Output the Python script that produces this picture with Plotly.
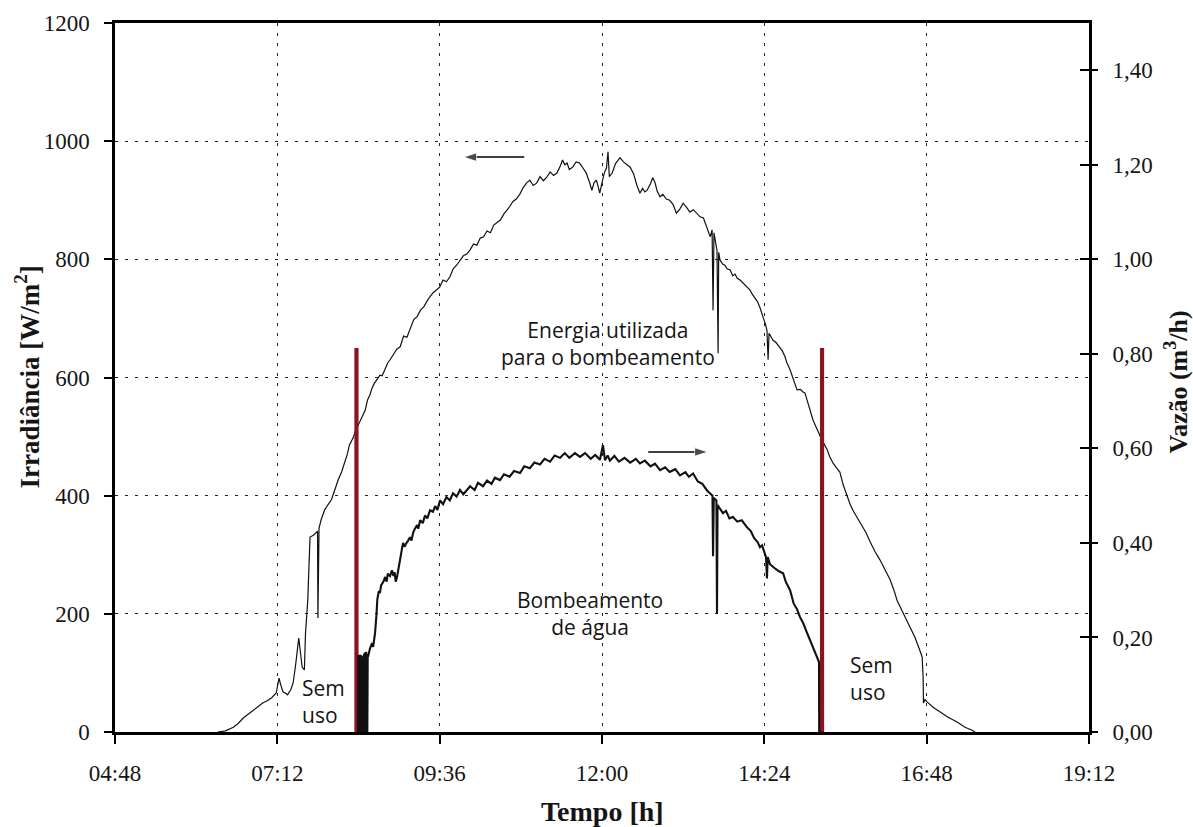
import plotly.graph_objects as go

DAY = "2000-01-01 "

# ---------------- data ----------------
irr_time = [
    "06:19", "06:26", "06:33", "06:37", "06:42", "06:46", "06:50", "06:54", "06:59", "07:03",
    "07:07", "07:11", "07:13:30", "07:15", "07:17", "07:19", "07:21", "07:24", "07:26", "07:28",
    "07:29:30", "07:31", "07:32:30", "07:34", "07:36", "07:37", "07:39", "07:40", "07:41", "07:44",
    "07:47", "07:47:40", "07:48", "07:48:20", "07:49", "07:51", "07:54", "07:57", "08:00", "08:03",
    "08:06", "08:09", "08:12", "08:14", "08:16", "08:19", "08:21", "08:25", "08:28", "08:30",
    "08:32", "08:34", "08:36", "08:38", "08:41", "08:43", "08:45", "08:47", "08:50", "08:52",
    "08:54", "08:56", "08:58", "09:01", "09:04", "09:07", "09:10", "09:13", "09:16", "09:19",
    "09:22", "09:26", "09:30", "09:33", "09:36", "09:39", "09:42", "09:45", "09:48", "09:51",
    "09:54", "09:57", "10:00", "10:03", "10:06", "10:09", "10:12", "10:15", "10:18", "10:21",
    "10:24", "10:27", "10:30", "10:33", "10:36", "10:38", "10:41", "10:44", "10:47", "10:50",
    "10:53", "10:56", "10:59", "11:02", "11:05", "11:08", "11:11", "11:14", "11:17", "11:20",
    "11:23", "11:25", "11:27", "11:29", "11:31", "11:34", "11:37", "11:40", "11:43", "11:46",
    "11:49", "11:51", "11:53", "11:55", "11:57", "11:58", "12:00", "12:02", "12:04", "12:05:20",
    "12:06:30", "12:09", "12:12", "12:16", "12:19", "12:22", "12:25", "12:28", "12:31", "12:33:40",
    "12:36", "12:38", "12:40", "12:43", "12:45", "12:47", "12:49", "12:51:30", "12:54", "12:57",
    "13:00", "13:03", "13:06", "13:09", "13:12", "13:15", "13:18", "13:21", "13:24", "13:27",
    "13:30", "13:33", "13:36", "13:37:40", "13:38:30", "13:39:20", "13:40:20", "13:42", "13:43", "13:43:30",
    "13:44:40", "13:47", "13:49", "13:51", "13:53:40", "13:56", "13:58", "14:00", "14:02:30", "14:05",
    "14:07", "14:09", "14:11:20", "14:13", "14:15:40", "14:18", "14:20", "14:22", "14:23:40", "14:25",
    "14:26:20", "14:27:20", "14:28:10", "14:30", "14:31:40", "14:34", "14:36", "14:38", "14:40", "14:42:20",
    "14:44", "14:46:50", "14:50", "14:53", "14:56", "14:58", "15:00", "15:02", "15:03:40", "15:05",
    "15:07:10", "15:09", "15:11:40", "15:13", "15:15:10", "15:17", "15:19:40", "15:22", "15:25", "15:28",
    "15:31", "15:34", "15:37:20", "15:40", "15:42:40", "15:46", "15:49", "15:54", "15:57:50", "16:02",
    "16:06:40", "16:11", "16:15:30", "16:19", "16:21:40", "16:25", "16:28:50", "16:33", "16:37:40", "16:41",
    "16:44", "16:44:50", "16:45:10", "16:46:30", "16:48:20", "16:53:40", "17:00", "17:07", "17:15", "17:22",
    "17:28:20", "17:31",
]
irr_value = [
    0, 2, 8, 14, 24, 30, 37, 42, 49, 53,
    58, 66, 91, 80, 68, 66, 63, 72, 83, 110,
    139, 159, 135, 110, 105, 168, 223, 280, 330, 333,
    338, 340, 193, 342, 345, 360, 376, 385, 393, 410,
    427, 440, 457, 470, 486, 497, 508, 525, 538, 545,
    562, 570, 582, 590, 598, 604, 603, 612, 625, 630,
    636, 640, 648, 652, 670, 668, 685, 698, 703, 714,
    720, 733, 743, 748, 753, 765, 762, 770, 784, 790,
    799, 806, 809, 816, 826, 824, 836, 838, 848, 845,
    858, 862, 867, 877, 884, 889, 898, 902, 910, 921,
    929, 934, 925, 929, 940, 933, 939, 948, 942, 946,
    958, 968, 960, 963, 952, 956, 965, 963, 955, 946,
    930, 917, 930, 934, 920, 912, 930, 946, 955, 982,
    940, 946, 962, 972, 965, 960, 956, 945, 925, 912,
    920, 914, 917, 928, 938, 930, 915, 906, 910, 902,
    900, 893, 878, 885, 895, 888, 880, 884, 878, 872,
    870, 855, 838, 850, 714, 845, 833, 815, 641, 812,
    799, 792, 790, 784, 782, 772, 775, 768, 765, 760,
    757, 752, 748, 742, 735, 728, 719, 708, 700, 690,
    680, 630, 675, 668, 663, 660, 655, 652, 645, 635,
    625, 613, 595, 579, 580, 576, 574, 560, 550, 540,
    528, 520, 510, 503, 494, 487, 478, 466, 455, 447,
    440, 418, 398, 386, 375, 364, 354, 338, 322, 306,
    291, 275, 258, 240, 223, 210, 195, 178, 160, 143,
    127, 93, 49, 55, 51, 42, 34, 25, 17, 8,
    3, 0,
]

flow_time = [
    "08:23:40", "08:23:50", "08:24:10", "08:24:25", "08:24:45", "08:25:00", "08:25:20", "08:25:35", "08:25:55", "08:26:10",
    "08:26:30", "08:26:45", "08:27:05", "08:27:20", "08:27:40", "08:28:20", "08:28:50", "08:29:10", "08:29:30", "08:29:50",
    "08:30:10", "08:30:30", "08:30:50", "08:31:10", "08:31:30", "08:31:50", "08:32:10", "08:32:30", "08:34", "08:36",
    "08:37", "08:38:40", "08:40", "08:40:40", "08:42", "08:43", "08:44", "08:45:40", "08:46:30", "08:47:30",
    "08:49", "08:50", "08:52", "08:53:40", "08:55", "08:56", "08:57", "08:58:10", "08:59:30", "09:00:50",
    "09:02", "09:03:30", "09:05", "09:06", "09:08", "09:09:40", "09:11", "09:12:30", "09:14", "09:16",
    "09:17", "09:18:40", "09:21", "09:23", "09:25", "09:27:30", "09:30", "09:32", "09:34", "09:36:20",
    "09:39", "09:42", "09:45", "09:47:50", "09:51", "09:54", "09:57", "10:00:20", "10:03", "10:07",
    "10:10", "10:14:30", "10:18", "10:22", "10:25", "10:29:30", "10:33", "10:38", "10:42", "10:47:20",
    "10:51", "10:56", "11:00", "11:05", "11:09", "11:14", "11:18", "11:22:50", "11:27", "11:31",
    "11:36", "11:40:30", "11:45", "11:50", "11:54", "11:58:10", "12:00:50", "12:02:40", "12:05", "12:07",
    "12:11", "12:15", "12:20", "12:25", "12:30", "12:33:40", "12:38", "12:43", "12:47", "12:51:30",
    "12:56", "13:00", "13:05", "13:09:10", "13:14", "13:17", "13:20:50", "13:25", "13:29", "13:33:10",
    "13:36", "13:38", "13:38:30", "13:39:10", "13:41:30", "13:42", "13:42:30", "13:45", "13:47:20", "13:50",
    "13:53", "13:56:10", "14:00", "14:04", "14:08:40", "14:12", "14:15", "14:18", "14:20:10", "14:22",
    "14:24", "14:25:30", "14:26:20", "14:27", "14:29", "14:31:40", "14:34", "14:37", "14:40:40", "14:43",
    "14:46:50", "14:50", "14:53", "14:55:40", "14:58:30", "15:01", "15:04:30", "15:07", "15:10:40", "15:12:30",
    "15:12:40",
]
flow_value = [
    0, 0.162, 0, 0.16, 0, 0.163, 0, 0.16, 0, 0.162,
    0, 0.158, 0, 0.16, 0, 0, 0.165, 0, 0.168, 0,
    0.17, 0, 0.17, 0, 0.165, 0, 0.16, 0.159, 0.175, 0.188,
    0.18, 0.209, 0.25, 0.28, 0.298, 0.294, 0.31, 0.315, 0.32, 0.328,
    0.318, 0.335, 0.33, 0.342, 0.33, 0.338, 0.318, 0.328, 0.35, 0.364,
    0.38, 0.40, 0.392, 0.398, 0.405, 0.412, 0.405, 0.422, 0.43, 0.438,
    0.43, 0.448, 0.442, 0.458, 0.452, 0.469, 0.466, 0.478, 0.47, 0.49,
    0.482, 0.497, 0.49, 0.505, 0.498, 0.512, 0.503, 0.512, 0.52, 0.512,
    0.527, 0.52, 0.532, 0.525, 0.538, 0.533, 0.545, 0.54, 0.552, 0.548,
    0.562, 0.558, 0.57, 0.566, 0.578, 0.572, 0.585, 0.58, 0.59, 0.58,
    0.59, 0.582, 0.59, 0.578, 0.586, 0.576, 0.607, 0.575, 0.585, 0.574,
    0.584, 0.572, 0.58, 0.57, 0.578, 0.568, 0.574, 0.562, 0.568, 0.554,
    0.56, 0.55, 0.556, 0.543, 0.55, 0.54, 0.547, 0.53, 0.525, 0.511,
    0.505, 0.5, 0.372, 0.495, 0.49, 0.25, 0.48, 0.47, 0.463, 0.468,
    0.452, 0.455, 0.445, 0.448, 0.433, 0.425, 0.41, 0.402, 0.391, 0.395,
    0.38, 0.37, 0.325, 0.37, 0.355, 0.349, 0.345, 0.34, 0.336, 0.318,
    0.30, 0.272, 0.26, 0.243, 0.23, 0.215, 0.194, 0.178, 0.159, 0.148,
    0,
]

# pumping limits (red bars), height in W/m2 units
limit_time = ["08:22:12", "15:15:12"]
limit_top = 650

# arrows pointing to each series' axis: (tail time, head time, level in W/m2)
arrow_left = ("10:51", "09:57", 973)
arrow_right = ("12:41", "13:34", 474)

x_range = ["04:48", "19:12"]
x_tick0 = "04:48"
y1_ticks = [0, 200, 400, 600, 800, 1000, 1200]
y2_ticks = [0.0, 0.2, 0.4, 0.6, 0.8, 1.0, 1.2, 1.4]
y2_labels = ["0,00", "0,20", "0,40", "0,60", "0,80", "1,00", "1,20", "1,40"]

# ---------------- figure ----------------
SERIF = "Liberation Serif"
SANS = "Open Sans"
INK = "#151515"


def d(t):
    return DAY + t


fig = go.Figure()

fig.add_trace(go.Scatter(
    x=[d(t) for t in irr_time], y=irr_value, mode="lines",
    line=dict(color="#111111", width=1.2), yaxis="y", showlegend=False))

fig.add_trace(go.Scatter(
    x=[d(t) for t in flow_time], y=flow_value, mode="lines",
    line=dict(color="#111111", width=2.1), yaxis="y2", showlegend=False))

rx, ry = [], []
for t in limit_time:
    rx += [d(t), d(t), None]
    ry += [0, limit_top, None]
fig.add_trace(go.Scatter(x=rx, y=ry, mode="lines",
                         line=dict(color="#8b1424", width=4.2),
                         yaxis="y", showlegend=False))

for tail, head, lvl in (arrow_left, arrow_right):
    fig.add_trace(go.Scatter(
        x=[d(tail), d(head)], y=[lvl, lvl], mode="lines+markers",
        line=dict(color="black", width=1.5),
        marker=dict(symbol="arrow", size=[0, 14], angleref="previous",
                    color="black"),
        yaxis="y", showlegend=False, hoverinfo="skip"))

# invisible trace to activate the inner-tick mirror of the right axis
fig.add_trace(go.Scatter(x=[d(x_range[0])], y=[0], mode="markers",
                         marker=dict(opacity=0), yaxis="y3",
                         showlegend=False, hoverinfo="skip"))

grid = dict(showgrid=True, gridcolor="#222222", gridwidth=1.3, griddash="2.5px,7.5px")

fig.update_layout(
    width=1193, height=827,
    margin=dict(l=115, r=104, t=23, b=95),
    paper_bgcolor="white", plot_bgcolor="white",
    xaxis=dict(
        type="date", range=[d(x_range[0]), d(x_range[1])],
        tick0=d(x_tick0), dtick=144 * 60 * 1000, tickformat="%H:%M",
        ticks="outside", ticklen=9, tickwidth=1.5, tickcolor="black",
        showline=True, linecolor="black", linewidth=2.5, mirror=True,
        zeroline=False, tickfont=dict(family=SERIF, size=23, color=INK),
        ticklabelstandoff=10, **grid),
    yaxis=dict(
        range=[0, 1200], tickvals=y1_ticks,
        ticks="outside", ticklen=8, tickwidth=1.5, tickcolor="black",
        showline=True, linecolor="black", linewidth=2.5, mirror=True,
        zeroline=False, tickfont=dict(family=SERIF, size=23, color=INK),
        ticklabelstandoff=10, **grid),
    yaxis2=dict(
        range=[0, 1.5], overlaying="y", side="right",
        tickvals=y2_ticks, ticktext=y2_labels,
        ticks="outside", ticklen=8, tickwidth=1.5, tickcolor="black",
        showline=False, showgrid=False, zeroline=False,
        tickfont=dict(family=SERIF, size=23, color=INK),
        ticklabelstandoff=10),
    yaxis3=dict(
        range=[0, 1.5], overlaying="y", side="right",
        tickvals=y2_ticks, ticks="inside", ticklen=9, tickwidth=1.5,
        tickcolor="black", showticklabels=False,
        showline=False, showgrid=False, zeroline=False),
)

ann = []
# axis titles
ann.append(dict(text="Irradiância [W/m<sup>2</sup>]", xref="paper", yref="paper",
                x=0, y=0.5, xshift=-88, textangle=-90, showarrow=False,
                xanchor="center", yanchor="middle",
                font=dict(family=SERIF, size=27, color=INK, weight="bold")))
ann.append(dict(text="Vazão (m<sup>3</sup>/h)", xref="paper", yref="paper",
                x=1, y=0.5, xshift=88, yshift=-5, textangle=-90, showarrow=False,
                xanchor="center", yanchor="middle",
                font=dict(family=SERIF, size=26, color=INK, weight="bold")))
ann.append(dict(text="Tempo [h]", xref="paper", yref="paper",
                x=0.5, y=0, yshift=-79, showarrow=False,
                xanchor="center", yanchor="middle",
                font=dict(family=SERIF, size=28, color=INK, weight="bold")))
# region labels
ann.append(dict(text="Energia utilizada<br>para o bombeamento", x=d("12:05"), y=658,
                xref="x", yref="y", showarrow=False, align="center",
                font=dict(family=SANS, size=21, color=INK)))
ann.append(dict(text="Bombeamento<br>de água", x=d("11:49"), y=201,
                xref="x", yref="y", showarrow=False, align="center",
                font=dict(family=SANS, size=21, color=INK)))
ann.append(dict(text="Sem<br>uso", x=d("07:32"), y=51, xanchor="left",
                xref="x", yref="y", showarrow=False, align="left",
                font=dict(family=SANS, size=21, color=INK)))
ann.append(dict(text="Sem<br>uso", x=d("15:38"), y=91, xanchor="left",
                xref="x", yref="y", showarrow=False, align="left",
                font=dict(family=SANS, size=21, color=INK)))
fig.update_layout(annotations=ann)

fig.write_html("out.html")
